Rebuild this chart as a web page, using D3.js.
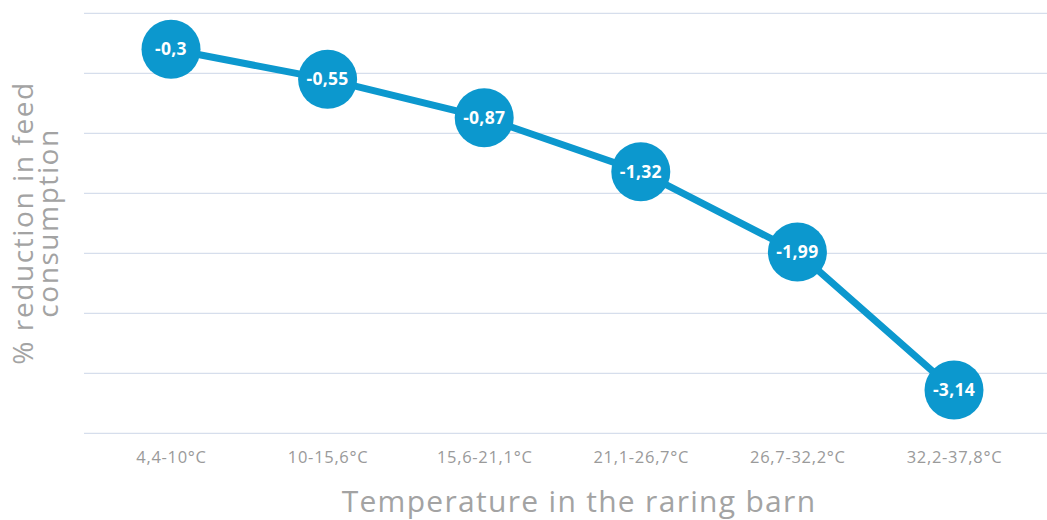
<!DOCTYPE html>
<html>
<head>
<meta charset="utf-8">
<script src="https://cdn.jsdelivr.net/npm/d3@7"></script>
<style>
  html, body { margin: 0; padding: 0; background: #fff; }
  svg text { font-family: 'Open Sans', 'Noto Sans', sans-serif; }
</style>
</head>
<body>
<div id="chart"></div>
<script>
const categories = ['4,4-10°C', '10-15,6°C', '15,6-21,1°C', '21,1-26,7°C', '26,7-32,2°C', '32,2-37,8°C'];
const values = [-0.3, -0.55, -0.87, -1.32, -1.99, -3.14];
const valueLabels = ['-0,3', '-0,55', '-0,87', '-1,32', '-1,99', '-3,14'];
const yTicks = [0, -0.5, -1, -1.5, -2, -2.5, -3, -3.5];

const width = 1047;
const height = 520;
const blue = '#0c98ce';

const svg = d3.select('#chart').append('svg')
  .attr('width', width)
  .attr('height', height);

// scales
const xScale = d3.scalePoint().domain(categories).range([171, 954]);
const yScale = d3.scaleLinear().domain([-3.5, 0]).range([433.3, 13.3]);

// grid lines
svg.append('g')
  .attr('class', 'grid')
  .selectAll('line')
  .data(yTicks)
  .enter()
  .append('line')
  .attr('x1', 84)
  .attr('x2', width)
  .attr('y1', d => yScale(d))
  .attr('y2', d => yScale(d))
  .style('stroke', '#d6deec')
  .style('stroke-width', 1.2);

// x axis labels
const xAxis = svg.append('g')
  .attr('class', 'axis axis-x')
  .attr('transform', 'translate(0, 433)')
  .call(d3.axisBottom(xScale).tickSize(0).tickPadding(18));
xAxis.select('.domain').remove();
xAxis.selectAll('text')
  .style('font-size', '16.5px')
  .style('letter-spacing', '0.7px')
  .style('fill', '#9a9a9a');

// axis titles
svg.append('text')
  .attr('x', 579)
  .attr('y', 512)
  .attr('text-anchor', 'middle')
  .style('font-size', '30px')
  .style('letter-spacing', '1.3px')
  .style('fill', '#a3a3a3')
  .text('Temperature in the raring barn');

const yTitle = svg.append('text')
  .attr('transform', 'translate(33, 223) rotate(-90)')
  .attr('text-anchor', 'middle')
  .style('font-size', '28px')
  .style('letter-spacing', '1.6px')
  .style('fill', '#a3a3a3');
yTitle.append('tspan').attr('x', 0).attr('dy', 0).text('% reduction in feed');
yTitle.append('tspan').attr('x', 0).attr('dy', 25).text('consumption');

// line
const line = d3.line()
  .x((d, i) => xScale(categories[i]))
  .y(d => yScale(d));

svg.append('path')
  .datum(values)
  .attr('d', line)
  .style('fill', 'none')
  .style('stroke', blue)
  .style('stroke-width', 7);

// points
const points = svg.selectAll('g.point')
  .data(values)
  .enter()
  .append('g')
  .attr('class', 'point')
  .attr('transform', (d, i) => `translate(${xScale(categories[i])}, ${yScale(d)})`);

points.append('circle')
  .attr('r', 29.5)
  .style('fill', blue);

points.append('text')
  .attr('text-anchor', 'middle')
  .attr('dy', '0.35em')
  .style('font-size', '17.5px')
  .style('font-weight', 'bold')
  .style('letter-spacing', '0.3px')
  .style('fill', '#fff')
  .text((d, i) => valueLabels[i]);
</script>
</body>
</html>
